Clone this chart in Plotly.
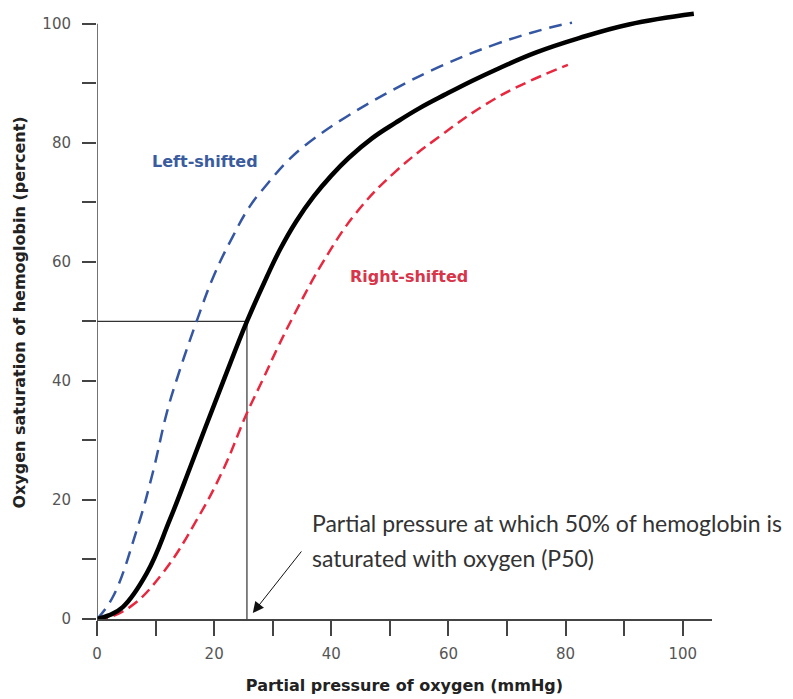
import plotly.graph_objects as go

# Oxygen-hemoglobin dissociation curves
normal_x = [0, 2, 4.4, 8.5, 12.4, 15.8, 17.5, 21.5, 25.6, 29, 31.2, 34, 37, 40, 43, 47, 51, 55, 59.6, 64, 68.1, 75, 82.3, 90.8, 101.9]
normal_y = [0, 0.6, 2, 7.7, 16.6, 25.2, 29.6, 39.8, 50, 57.5, 62, 66.8, 71, 74.5, 77.5, 80.8, 83.4, 85.8, 88.2, 90.4, 92.3, 95.2, 97.6, 99.9, 101.7]

left_x = [0, 2.7, 6.8, 9.5, 11.9, 13.6, 17, 20, 23.2, 26, 29, 32.9, 36.9, 42.6, 51.1, 58.5, 68.1, 76.7, 81.1]
left_y = [0, 3.7, 15, 24.5, 34.6, 40.2, 50, 57.8, 64.3, 69.2, 73.0, 77.3, 80.6, 84.4, 89.2, 92.8, 96.6, 99.2, 100.2]

right_x = [0, 1, 5.6, 11.2, 17, 21.5, 25.6, 28.3, 30.8, 33.7, 38.6, 44.3, 51.1, 58.5, 66.4, 72.6, 80.4]
right_y = [0, 0, 2, 7.7, 16.6, 25, 34.6, 40.2, 45.5, 51.2, 60.0, 68.3, 75.3, 81.1, 86.5, 89.8, 93.1]

p50 = 25.6
half_sat = 50

x_ticks = [0, 10, 20, 30, 40, 50, 60, 70, 80, 90, 100]
x_labels = ["0", "", "20", "", "40", "", "60", "", "80", "", "100"]
y_ticks = [0, 10, 20, 30, 40, 50, 60, 70, 80, 90, 100]
y_labels = ["0", "", "20", "", "40", "", "60", "", "80", "", "100"]

fig = go.Figure()

# P50 guide lines
fig.add_trace(go.Scatter(x=[0, p50, p50], y=[half_sat, half_sat, 0], mode="lines",
                         line=dict(color="#333333", width=1.2), hoverinfo="skip", showlegend=False))

fig.add_trace(go.Scatter(x=left_x, y=left_y, mode="lines",
                         line=dict(color="#3557A3", width=2.5, dash="13px,8px", shape="spline", smoothing=1.2),
                         showlegend=False))
fig.add_trace(go.Scatter(x=right_x, y=right_y, mode="lines",
                         line=dict(color="#E8283F", width=2.5, dash="11px,6px", shape="spline", smoothing=1.2),
                         showlegend=False))
fig.add_trace(go.Scatter(x=normal_x, y=normal_y, mode="lines",
                         line=dict(color="#000000", width=4.5, shape="spline", smoothing=1.2),
                         showlegend=False))

# y axis line up to 100 only
fig.add_shape(type="line", x0=0, x1=0, y0=0, y1=100, xref="x", yref="y",
              line=dict(color="#444444", width=1.5))

tickfont = dict(family="DejaVu Sans", size=15, color="#555555")
titlefont = dict(family="DejaVu Sans", size=16, color="#222222")

fig.update_xaxes(range=[0, 105], tickvals=x_ticks, ticktext=x_labels, ticks="outside",
                 ticklen=15, tickwidth=1.5, tickcolor="#444444", showline=True,
                 linecolor="#444444", linewidth=1.5, showgrid=False, zeroline=False,
                 tickfont=tickfont, ticklabelstandoff=5,
                 title=dict(text="<b>Partial pressure of oxygen (mmHg)</b>", font=titlefont, standoff=18))
fig.update_yaxes(range=[0, 103], tickvals=y_ticks, ticktext=y_labels, ticks="outside",
                 ticklen=14, tickwidth=1.5, tickcolor="#444444", showline=False,
                 showgrid=False, zeroline=False, tickfont=tickfont, ticklabelstandoff=8,
                 title=dict(text="<b>Oxygen saturation of hemoglobin (percent)</b>", font=titlefont, standoff=12))

fig.add_annotation(x=18.5, y=76.8, text="<b>Left-shifted</b>", showarrow=False,
                   font=dict(family="DejaVu Sans", size=16, color="#3A5C9E"))
fig.add_annotation(x=53.2, y=57.5, text="<b>Right-shifted</b>", showarrow=False,
                   font=dict(family="DejaVu Sans", size=16, color="#D8344A"))

notefont = dict(family="Lato", size=23, color="#333333")
fig.add_annotation(x=36.3, y=16.1, text="Partial pressure at which 50% of hemoglobin is",
                   showarrow=False, xanchor="left", font=notefont)
fig.add_annotation(x=36.3, y=10.25, text="saturated with oxygen (P50)",
                   showarrow=False, xanchor="left", font=notefont)
fig.add_annotation(x=26.6, y=1.0, ax=35.1, ay=11.6, axref="x", ayref="y", text="",
                   showarrow=True, arrowhead=2, arrowsize=2.2, arrowwidth=1, arrowcolor="#111111")

fig.update_layout(width=793, height=699, margin=dict(l=97, r=81, t=6, b=80),
                  plot_bgcolor="white", paper_bgcolor="white")

fig.write_html("out.html")
